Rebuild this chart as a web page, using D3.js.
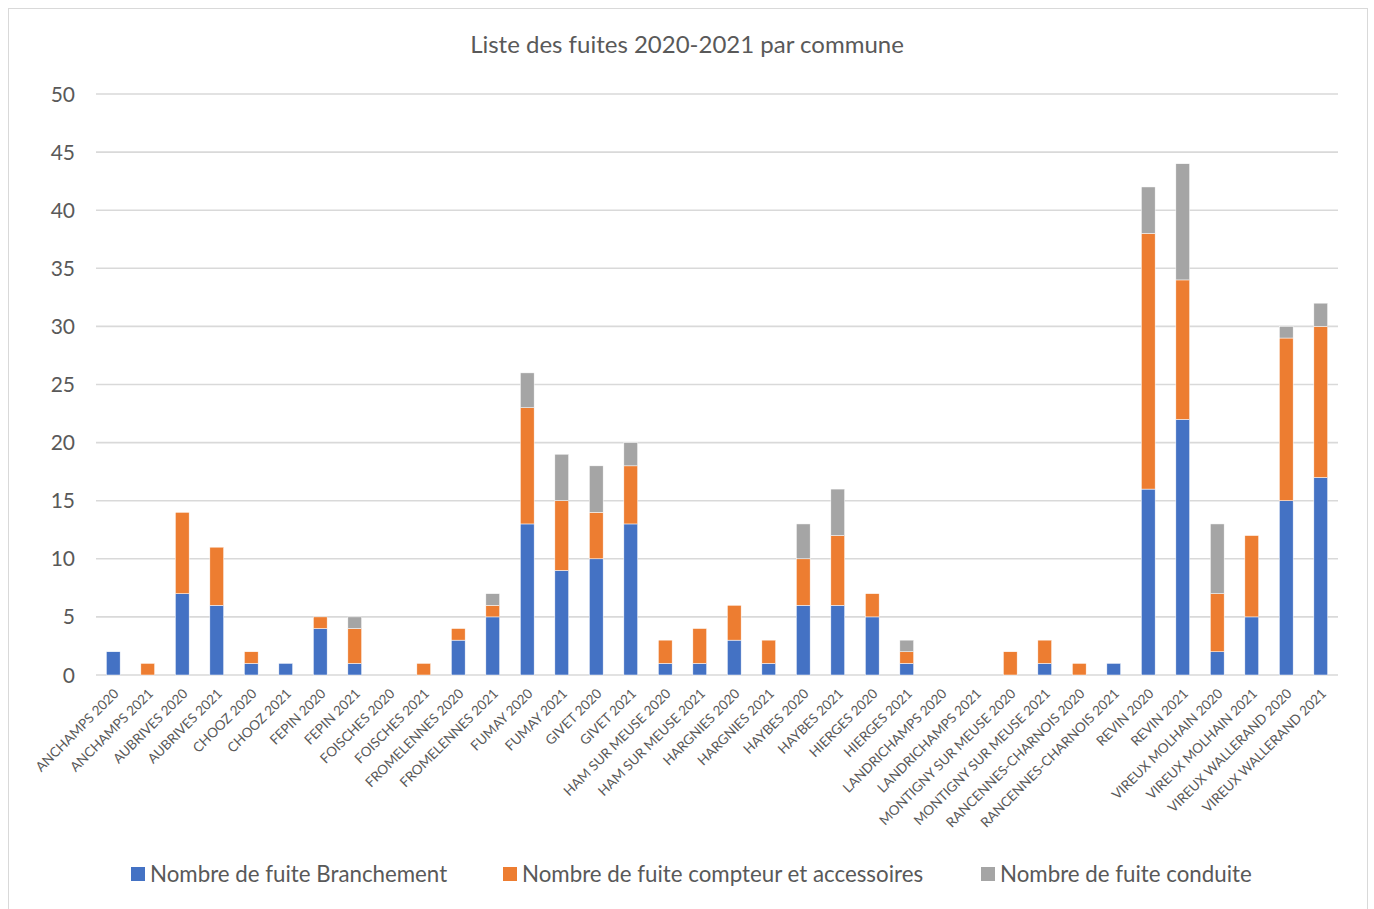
<!DOCTYPE html>
<html><head><meta charset="utf-8">
<script src="https://cdn.jsdelivr.net/npm/d3@7"></script>
<style>body{margin:0;background:#fff;} text{font-family:Lato, "Open Sans", sans-serif;}</style>
</head><body><svg id="c" width="1374" height="909"></svg>
<script>
const categories = ["ANCHAMPS 2020","ANCHAMPS 2021","AUBRIVES 2020","AUBRIVES 2021","CHOOZ 2020","CHOOZ 2021","FEPIN 2020","FEPIN 2021","FOISCHES 2020","FOISCHES 2021","FROMELENNES 2020","FROMELENNES 2021","FUMAY 2020","FUMAY 2021","GIVET 2020","GIVET 2021","HAM SUR MEUSE 2020","HAM SUR MEUSE 2021","HARGNIES 2020","HARGNIES 2021","HAYBES 2020","HAYBES 2021","HIERGES 2020","HIERGES 2021","LANDRICHAMPS 2020","LANDRICHAMPS 2021","MONTIGNY SUR MEUSE 2020","MONTIGNY SUR MEUSE 2021","RANCENNES-CHARNOIS 2020","RANCENNES-CHARNOIS 2021","REVIN 2020","REVIN 2021","VIREUX MOLHAIN 2020","VIREUX MOLHAIN 2021","VIREUX WALLERAND 2020","VIREUX WALLERAND 2021"];
const branchement = [2,0,7,6,1,1,4,1,0,0,3,5,13,9,10,13,1,1,3,1,6,6,5,1,0,0,0,1,0,1,16,22,2,5,15,17];
const compteur    = [0,1,7,5,1,0,1,3,0,1,1,1,10,6,4,5,2,3,3,2,4,6,2,1,0,0,2,2,1,0,22,12,5,7,14,13];
const conduite    = [0,0,0,0,0,0,0,1,0,0,0,1,3,4,4,2,0,0,0,0,3,4,0,1,0,0,0,0,0,0,4,10,6,0,1,2];
const seriesNames = ["Nombre de fuite Branchement","Nombre de fuite compteur et accessoires","Nombre de fuite conduite"];
const colors = ["#4472c4","#ed7d31","#a5a5a5"];
const yTicks = [0,5,10,15,20,25,30,35,40,45,50];
const title = "Liste des fuites 2020-2021 par commune";

const svg = d3.select("#c");
const pLeft = 96, pRight = 1338, pTop = 94, pBottom = 675;
svg.append("rect").attr("x",8.5).attr("y",8.5).attr("width",1359).attr("height",920).attr("fill","#fff").attr("stroke","#d9d9d9");

const x = d3.scaleBand().domain(categories).range([pLeft,pRight]).paddingInner(0.6).paddingOuter(0.3);
const y = d3.scaleLinear().domain([0,50]).range([pBottom,pTop]);

svg.append("text").attr("x",687).attr("y",53).attr("text-anchor","middle").attr("font-size",24).attr("fill","#595959").text(title);

const gy = svg.append("g");
gy.selectAll("line").data(yTicks).join("line")
  .attr("x1",pLeft).attr("x2",pRight).attr("y1",d=>y(d)).attr("y2",d=>y(d))
  .attr("stroke","#d9d9d9").attr("stroke-width",1.6);
gy.selectAll("text").data(yTicks).join("text")
  .attr("x",75).attr("y",d=>y(d)+7.5).attr("text-anchor","end").attr("font-size",21).attr("fill","#595959").text(d=>d);

const rows = categories.map((c,i)=>({cat:c, b:branchement[i], c:compteur[i], d:conduite[i]}));
const stack = d3.stack().keys(["b","c","d"])(rows);
svg.append("g").selectAll("g").data(stack).join("g").attr("fill",(d,i)=>colors[i])
  .selectAll("rect").data(d=>d.filter(p=>p[1]>p[0])).join("rect")
  .attr("x",d=>x(d.data.cat)).attr("width",x.bandwidth())
  .attr("y",d=>y(d[1])).attr("height",d=>y(d[0])-y(d[1]))
  .attr("stroke","#fff").attr("stroke-width",0.5);

const gx = svg.append("g");
gx.selectAll("text").data(categories).join("text")
  .attr("transform",d=>`translate(${x(d)+x.bandwidth()/2+3},${pBottom+16}) rotate(-45)`)
  .attr("text-anchor","end").attr("font-size",13.5).attr("fill","#595959").attr("dy","0.35em").text(d=>d);

const legX = [131,503,981];
const lg = svg.append("g");
seriesNames.forEach((n,i)=>{
  lg.append("rect").attr("x",legX[i]).attr("y",867).attr("width",14).attr("height",14).attr("fill",colors[i]);
  lg.append("text").attr("x",legX[i]+19).attr("y",882).attr("font-size",22.3).attr("fill","#595959").text(n);
});
</script></body></html>
